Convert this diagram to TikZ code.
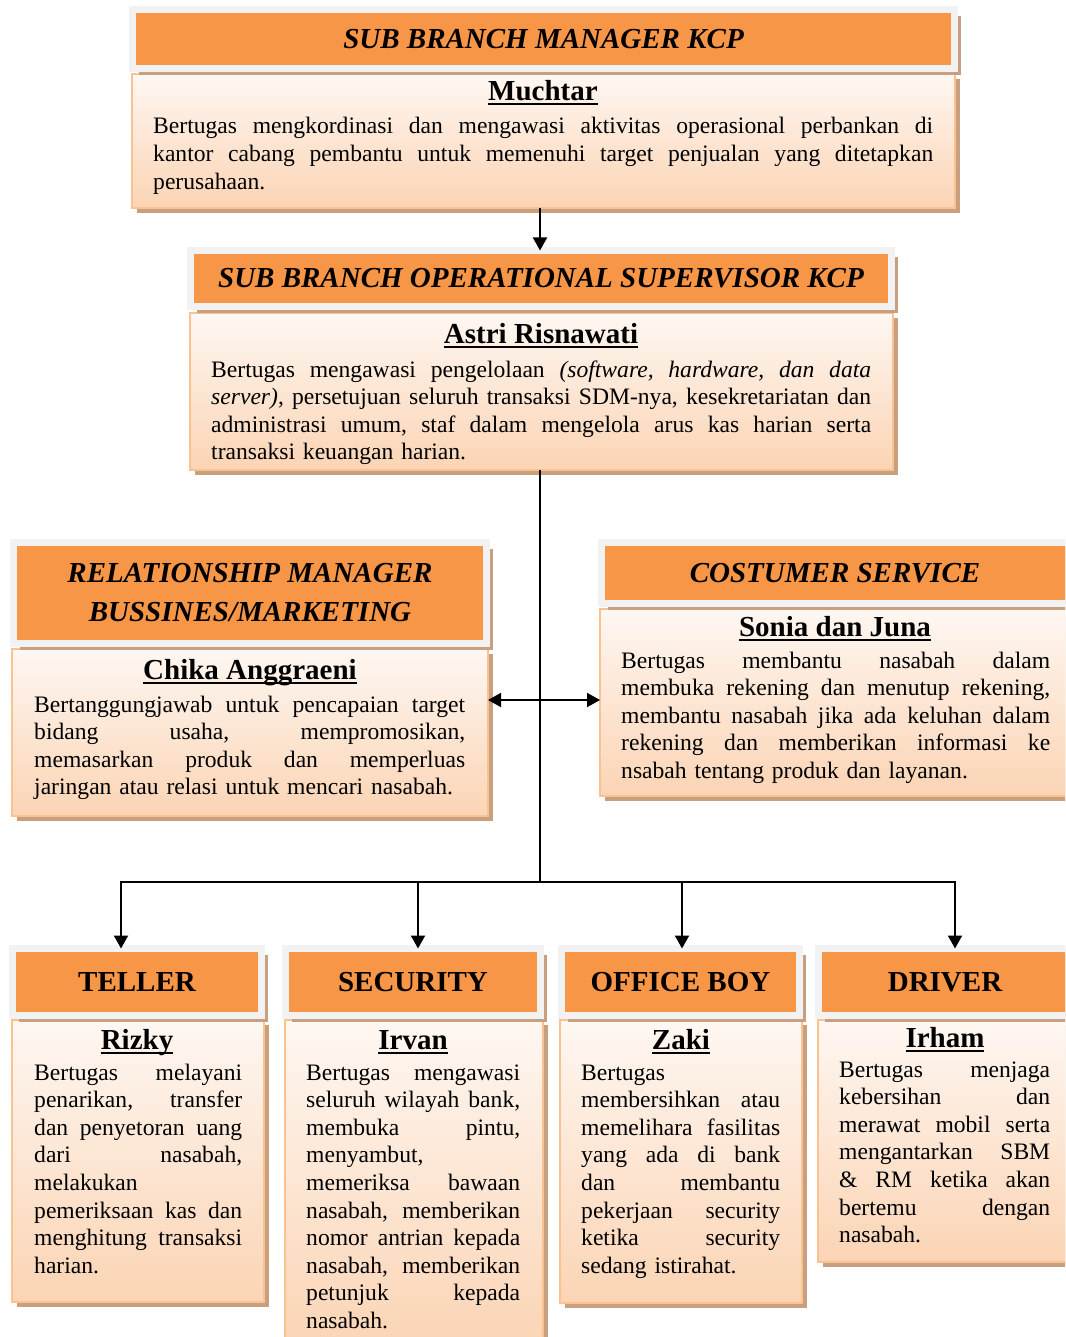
\documentclass[tikz,border=0pt]{standalone}
\usepackage{fontspec}
\setmainfont{Liberation Serif}
\usetikzlibrary{arrows.meta,shadows}

\definecolor{headorange}{HTML}{F79646}
\definecolor{framegray}{HTML}{F2F2F2}
\definecolor{paneltop}{HTML}{FEF7F2}
\definecolor{panelbot}{HTML}{FBD4B4}
\definecolor{panelline}{HTML}{FAC291}
\definecolor{shadowtan}{HTML}{C9A07F}

\newdimen\dutyw
\newcommand\ulname[1]{\setbox0=\hbox{#1}\rlap{\vrule width\wd0 height-2.5pt depth4.5pt}\box0}
% justified line: every space becomes \hfill
\def\jw#1 #2\jstop{#1\if\relax\detokenize{#2}\relax\else\hfill\jw#2\jstop\fi}
\newcommand\jline[1]{\hbox to\dutyw{\jw#1 \jstop}}
\newcommand\lline[1]{\hbox{#1}}
\newcommand\dutyfont{\fontsize{23.6}{27.6}\selectfont\frenchspacing}
\hbadness=10000

\begin{document}
\begin{tikzpicture}[x=1pt,y=-1pt,
  head/.style={draw=framegray,line width=7pt,fill=headorange,inner sep=0,outer sep=0,
    font=\fontsize{29}{39}\selectfont\bfseries\itshape,align=center,
    drop shadow={shadow xshift=6.5pt,shadow yshift=-6.5pt,fill=shadowtan,opacity=1}},
  headup/.style={head,font=\fontsize{29}{34}\selectfont\bfseries},
  panel/.style={draw=panelline,line width=1.5pt,top color=paneltop,bottom color=panelbot,
    inner sep=0,outer sep=0,
    drop shadow={shadow xshift=5pt,shadow yshift=-5pt,fill=shadowtan,opacity=1}},
  who/.style={anchor=base,inner sep=0,font=\fontsize{29}{34}\selectfont\bfseries},
  duty/.style={anchor=base west,inner sep=0,font=\dutyfont},
  link/.style={line width=2pt},
  tolink/.style={link,-{Triangle[length=13pt,width=14pt]}},
  bothlink/.style={link,{Triangle[length=13pt,width=14pt]}-{Triangle[length=13pt,width=14pt]}}]
  \useasboundingbox (0,0) rectangle (1065,1337);
  \clip (0,0) rectangle (1065,1337);

  \node[panel,minimum width=823,minimum height=134] (b1) at (543.5,141) {};
  \node[head,minimum width=822,minimum height=59] (h1) at (543.5,39) {SUB BRANCH MANAGER KCP};
  \node[who] (n1) at (543,101) {\ulname{Muchtar}};
  \node[duty,text width=780] (t1) at (153,134) {\dutyw=780pt
    \jline{Bertugas mengkordinasi dan mengawasi aktivitas operasional perbankan di}
    \jline{kantor cabang pembantu untuk memenuhi target penjualan yang ditetapkan}
    \lline{perusahaan.}};

  \node[panel,minimum width=703,minimum height=157] (b2) at (541.5,391.5) {};
  \node[head,minimum width=701,minimum height=56] (h2) at (541,278.5) {SUB BRANCH OPERATIONAL SUPERVISOR KCP};
  \node[who] (n2) at (541,343) {\ulname{Astri Risnawati}};
  \node[duty,text width=660] (t2) at (211,377) {\dutyw=660pt
    \jline{Bertugas mengawasi pengelolaan \textit{(software,} \textit{hardware,} \textit{dan} \textit{data}}
    \jline{\textit{server)}, persetujuan seluruh transaksi SDM-nya, kesekretariatan dan}
    \jline{administrasi umum, staf dalam mengelola arus kas harian serta}
    \lline{transaksi keuangan harian.}};

  \node[panel,minimum width=476,minimum height=167] (b3) at (250,732.5) {};
  \node[head,minimum width=473,minimum height=101] (h3) at (250,593) {RELATIONSHIP MANAGER\\BUSSINES/MARKETING};
  \node[who] (n3) at (250,679) {\ulname{Chika Anggraeni}};
  \node[duty,text width=431] (t3) at (34,712) {\dutyw=431pt
    \jline{Bertanggungjawab untuk pencapaian target}
    \jline{bidang usaha, mempromosikan,}
    \jline{memasarkan produk dan memperluas}
    \lline{jaringan atau relasi untuk mencari nasabah.}};

  \node[panel,minimum width=471,minimum height=187] (b4) at (835.5,702.5) {};
  \node[head,minimum width=467,minimum height=61] (h4) at (835,573) {COSTUMER SERVICE};
  \node[who] (n4) at (835,636) {\ulname{Sonia dan Juna}};
  \node[duty,text width=429] (t4) at (621,668) {\dutyw=429pt
    \jline{Bertugas membantu nasabah dalam}
    \jline{membuka rekening dan menutup rekening,}
    \jline{membantu nasabah jika ada keluhan dalam}
    \jline{rekening dan memberikan informasi ke}
    \lline{nsabah tentang produk dan layanan.}};

  \node[panel,minimum width=252,minimum height=282] (b5) at (138,1161) {};
  \node[headup,minimum width=249,minimum height=67] (h5) at (137,982) {TELLER};
  \node[who] (n5) at (137,1049) {\ulname{Rizky}};
  \node[duty,text width=208] (t5) at (34,1080) {\dutyw=208pt
    \jline{Bertugas melayani}
    \jline{penarikan, transfer}
    \jline{dan penyetoran uang}
    \jline{dari nasabah,}
    \lline{melakukan}
    \jline{pemeriksaan kas dan}
    \jline{menghitung transaksi}
    \lline{harian.}};

  \node[panel,minimum width=258,minimum height=330] (b6) at (414,1185) {};
  \node[headup,minimum width=255,minimum height=67] (h6) at (413,982) {SECURITY};
  \node[who] (n6) at (413,1049) {\ulname{Irvan}};
  \node[duty,text width=214] (t6) at (306,1080) {\dutyw=214pt
    \jline{Bertugas mengawasi}
    \jline{seluruh wilayah bank,}
    \jline{membuka pintu,}
    \lline{menyambut,}
    \jline{memeriksa bawaan}
    \jline{nasabah, memberikan}
    \jline{nomor antrian kepada}
    \jline{nasabah, memberikan}
    \jline{petunjuk kepada}
    \lline{nasabah.}};

  \node[panel,minimum width=242,minimum height=283] (b7) at (681,1161.5) {};
  \node[headup,minimum width=238,minimum height=67] (h7) at (680.5,982) {OFFICE BOY};
  \node[who] (n7) at (681,1049) {\ulname{Zaki}};
  \node[duty,text width=199] (t7) at (581,1080) {\dutyw=199pt
    \lline{Bertugas}
    \jline{membersihkan atau}
    \jline{memelihara fasilitas}
    \jline{yang ada di bank}
    \jline{dan membantu}
    \jline{pekerjaan security}
    \jline{ketika security}
    \lline{sedang istirahat.}};

  \node[panel,minimum width=253,minimum height=242] (b8) at (944.5,1141) {};
  \node[headup,minimum width=253,minimum height=67] (h8) at (945,982) {DRIVER};
  \node[who] (n8) at (945,1047) {\ulname{Irham}};
  \node[duty,text width=211] (t8) at (839,1077) {\dutyw=211pt
    \jline{Bertugas menjaga}
    \jline{kebersihan dan}
    \jline{merawat mobil serta}
    \jline{mengantarkan SBM}
    \jline{\& RM ketika akan}
    \jline{bertemu dengan}
    \lline{nasabah.}};

  % connectors from the supervisor down to the staff
  \coordinate (bus) at (540,882);
  \coordinate (mid) at (540,700);
  \draw[tolink] (b1.south -| bus) -- (h2.north -| bus);
  \draw[link] (b2.south -| bus) -- (bus);
  \draw[bothlink] (b3.east |- mid) -- (b4.west |- mid);
  \draw[tolink] (bus) -| ([xshift=-16pt]h5.north);
  \draw[tolink] (bus) -| ([xshift=5pt]h6.north);
  \draw[tolink] (bus) -| ([xshift=1.5pt]h7.north);
  \draw[tolink] (bus) -| ([xshift=10pt]h8.north);
\end{tikzpicture}
\end{document}
